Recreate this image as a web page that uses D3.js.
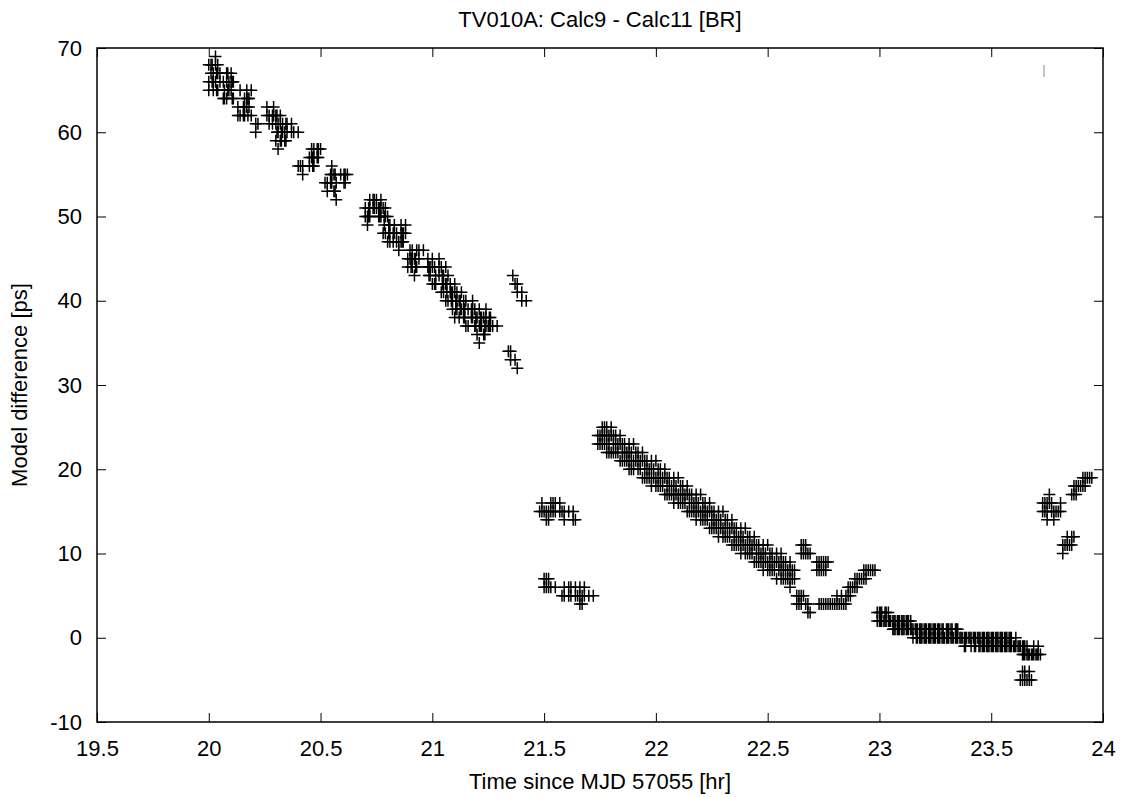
<!DOCTYPE html>
<html>
<head>
<meta charset="utf-8">
<script src="https://cdn.jsdelivr.net/npm/d3@7"></script>
<style>
  body { margin: 0; background: #fff; }
  svg { display: block; font-family: "Liberation Sans", Arial, sans-serif; }
</style>
</head>
<body>
<svg id="chart" width="1125" height="797"></svg>
<script>
// axis ticks
const xTicks = [19.5, 20, 20.5, 21, 21.5, 22, 22.5, 23, 23.5, 24];
const yTicks = [-10, 0, 10, 20, 30, 40, 50, 60, 70];

// each row: [hour, [model differences in ps]]
const earlyTrack = [
  [20.00, [68, 66, 65]], [20.01, [68, 67]], [20.015, [68, 66]], [20.02, [67, 66, 65]],
  [20.03, [69, 68, 66]], [20.035, [67, 65]], [20.04, [68, 67, 65]], [20.05, [67, 66]],
  [20.065, [66, 64]], [20.07, [65, 64]], [20.08, [67, 66, 64]], [20.085, [67, 65]],
  [20.09, [66, 65]], [20.10, [67, 66, 65]], [20.105, [66, 64]], [20.11, [66, 64]],
  [20.13, [63, 62]], [20.14, [65, 62]], [20.155, [63, 62]], [20.16, [64, 63, 62]],
  [20.17, [65, 64, 63]], [20.175, [64, 62]], [20.18, [64, 63]], [20.19, [65, 62]],
  [20.21, [61, 60]], [20.22, [61]], [20.26, [63, 62]], [20.27, [62, 61]],
  [20.285, [62, 61]], [20.29, [63, 62]], [20.30, [62, 61, 59]], [20.305, [62, 60]],
  [20.31, [61, 60, 58]], [20.32, [62, 61, 59]], [20.325, [60, 59]], [20.33, [61, 60]],
  [20.34, [60, 59]], [20.345, [61, 59]], [20.35, [61, 60]], [20.37, [61, 60]],
  [20.38, [60]], [20.40, [60, 56]], [20.41, [56]], [20.42, [56, 55]],
  [20.45, [57, 56]], [20.46, [58, 57]], [20.465, [57, 56]], [20.47, [58, 57, 56]],
  [20.485, [58, 57]], [20.49, [58, 57]], [20.50, [58]], [20.52, [54]],
  [20.53, [54, 53]], [20.545, [55, 54]], [20.55, [56, 55, 54]], [20.56, [55, 53]],
  [20.565, [55, 53]], [20.57, [54, 52]], [20.59, [55]], [20.605, [55, 54]],
  [20.61, [55, 54]], [20.62, [55]]
];

const midTrack = [
  [20.70, [51, 50]], [20.71, [50, 49]], [20.715, [51, 50]], [20.72, [52, 51, 50]],
  [20.735, [52, 51]], [20.74, [52, 51]], [20.75, [52, 51]], [20.76, [51, 50]],
  [20.765, [51, 50]], [20.77, [52, 51, 50]], [20.78, [51, 48]], [20.785, [50, 49]],
  [20.79, [51, 50, 48]], [20.80, [50, 47]], [20.805, [49, 48]], [20.81, [49, 48, 47]],
  [20.825, [48, 47]], [20.83, [49, 48]], [20.84, [48, 47]], [20.85, [47, 46]],
  [20.86, [49, 48, 47]], [20.865, [48, 47]], [20.87, [48, 47]], [20.88, [49, 48]],
  [20.89, [45, 44]], [20.90, [46, 45]], [20.905, [45, 44]], [20.91, [46, 45, 44]],
  [20.92, [45, 43]], [20.925, [45, 44]], [20.93, [46, 44]], [20.94, [46, 45]],
  [20.96, [46]], [20.98, [45, 44]], [20.985, [44, 43]], [20.99, [44, 43]],
  [21.00, [45, 44, 42]], [21.01, [44, 42]], [21.015, [43, 42]], [21.03, [45, 44, 43]],
  [21.04, [44, 41]], [21.045, [43, 42]], [21.05, [43, 42, 41]], [21.06, [44, 42, 40]],
  [21.065, [42, 41]], [21.07, [43, 40]], [21.08, [42, 41]], [21.085, [41, 40]],
  [21.09, [41, 40, 39]], [21.10, [42, 41, 38]], [21.105, [40, 39]], [21.11, [41, 40, 39]],
  [21.12, [40, 38]], [21.125, [40, 39]], [21.13, [41, 39]], [21.14, [40, 39, 38]],
  [21.145, [39, 38]], [21.15, [40, 37]], [21.16, [39, 37]], [21.175, [39, 38]],
  [21.18, [40, 39, 38]], [21.19, [39, 37]], [21.195, [38, 37]], [21.20, [38, 36]],
  [21.21, [39, 37, 35]], [21.215, [38, 37]], [21.22, [38, 37]], [21.23, [38, 36]],
  [21.235, [37, 36]], [21.24, [39, 38, 37]], [21.25, [37]], [21.255, [38, 37]],
  [21.26, [38, 37]], [21.27, [37]], [21.29, [37]],
  [21.34, [34]], [21.35, [34, 33]], [21.37, [33]], [21.38, [32]],
  [21.36, [43]], [21.37, [42]], [21.38, [42, 41]], [21.40, [41, 40]], [21.42, [40]]
];

const gapClusters = [
  [21.48, [15]], [21.49, [16, 15]], [21.50, [15, 7, 6]], [21.51, [15, 14, 7, 6]],
  [21.52, [15, 14, 7, 6]], [21.53, [16, 15, 6]], [21.54, [16, 15]], [21.55, [16, 15, 6]],
  [21.57, [16, 15]], [21.58, [15, 5]], [21.59, [15, 14, 6, 5]], [21.61, [15, 6, 5]],
  [21.62, [6, 5]], [21.63, [15, 14]], [21.64, [14, 6, 5]], [21.65, [5]],
  [21.66, [6, 5, 4]], [21.67, [5, 4]], [21.68, [6, 5]], [21.70, [5]], [21.72, [5]]
];

const lateTrack = [
  [21.74, [24, 23]], [21.75, [24, 23]], [21.76, [25, 24, 23]], [21.77, [25, 24, 23]],
  [21.78, [25, 24, 23, 22]], [21.79, [24, 23, 22]], [21.80, [25, 24, 22]], [21.81, [24, 23, 22]],
  [21.82, [24, 23, 22]], [21.83, [23, 22]], [21.84, [24, 23, 21]], [21.85, [23, 22, 21]],
  [21.86, [23, 22, 21]], [21.87, [22, 21]], [21.88, [23, 22, 21, 20]], [21.89, [22, 21, 20]],
  [21.90, [23, 21, 20]], [21.91, [22, 21]], [21.92, [22, 21, 20]], [21.93, [21, 20]],
  [21.94, [22, 21, 19]], [21.95, [21, 20, 19]], [21.96, [21, 20, 19]], [21.97, [20, 19]],
  [21.98, [21, 20, 19, 18]], [21.99, [20, 19]], [22.00, [21, 19, 18]], [22.01, [20, 19, 18]],
  [22.02, [20, 19, 18]], [22.03, [19, 18]], [22.04, [20, 19, 17]], [22.05, [19, 18, 17]],
  [22.06, [19, 18, 17]], [22.07, [18, 17]], [22.08, [19, 18, 17, 16]], [22.09, [18, 17]],
  [22.10, [19, 17, 16]], [22.11, [18, 17, 16]], [22.12, [18, 17, 16]], [22.13, [17, 16]],
  [22.14, [18, 17, 15]], [22.15, [17, 16, 15]], [22.16, [17, 16, 15]], [22.17, [16, 15]],
  [22.18, [17, 16, 15, 14]], [22.19, [16, 15]], [22.20, [17, 15, 14]], [22.21, [16, 15, 14]],
  [22.22, [16, 15, 14]], [22.23, [15, 14]], [22.24, [16, 15, 13]], [22.25, [15, 14, 13]],
  [22.26, [15, 14, 13]], [22.27, [14, 13]], [22.28, [15, 14, 13, 12]], [22.29, [14, 13]],
  [22.30, [15, 13, 12]], [22.31, [14, 13, 12]], [22.32, [14, 13, 12]], [22.33, [13, 12]],
  [22.34, [14, 13, 11]], [22.35, [13, 12, 11]], [22.36, [13, 12, 11]], [22.37, [12, 11]],
  [22.38, [13, 12, 11, 10]], [22.39, [12, 11]], [22.40, [13, 11, 10]], [22.41, [12, 11, 10]],
  [22.42, [12, 11, 10]], [22.43, [11, 10]], [22.44, [12, 11, 9]], [22.45, [11, 10, 9]],
  [22.46, [11, 10, 9]], [22.47, [10, 9]], [22.48, [11, 10, 9, 8]], [22.49, [10, 9]],
  [22.50, [11, 9, 8]], [22.51, [10, 9, 8]], [22.52, [10, 9, 8]], [22.53, [9, 8]],
  [22.54, [10, 9, 7]], [22.55, [9, 8]], [22.56, [10, 9, 8, 7]], [22.57, [9, 8, 7]],
  [22.58, [9, 8, 7]], [22.59, [8, 7]], [22.60, [9, 8, 7, 6]], [22.61, [8, 7]],
  [22.62, [8, 7]]
];

const dipClusters = [
  [22.63, [5, 4]], [22.64, [5, 4]], [22.65, [11, 10, 5, 4]], [22.66, [11, 10, 5]],
  [22.67, [11, 10, 4]], [22.68, [10, 4, 3]], [22.69, [10, 3]], [22.72, [9, 8]],
  [22.73, [9, 8, 4]], [22.74, [9, 8, 4]], [22.75, [9, 8, 4]], [22.76, [9, 8, 4]],
  [22.77, [9, 4]], [22.78, [4]], [22.79, [4]], [22.80, [4]], [22.81, [5, 4]],
  [22.82, [4]], [22.83, [5, 4]], [22.84, [4]], [22.85, [5, 4]], [22.86, [6, 5]],
  [22.87, [6, 5]], [22.88, [6]], [22.89, [7, 6]], [22.90, [7, 6]], [22.91, [7]],
  [22.92, [7]], [22.93, [8, 7]], [22.94, [8, 7]], [22.95, [8]], [22.96, [8]],
  [22.97, [8]], [22.98, [8]]
];

const flatTrack = [
  [22.99, [3, 2]], [23.00, [3, 2]], [23.005, [3, 2]], [23.01, [3, 2]], [23.02, [2]],
  [23.025, [3, 2]], [23.03, [3, 2]], [23.04, [3, 2]], [23.045, [2]], [23.05, [2]],
  [23.06, [2, 1]], [23.065, [2, 1]], [23.07, [2, 1]], [23.08, [2, 1]], [23.085, [2, 1]],
  [23.09, [2, 1]], [23.10, [2, 1]], [23.105, [2, 1]], [23.11, [2, 1]], [23.12, [2, 1]],
  [23.125, [2, 1]], [23.13, [2, 1]], [23.14, [2, 1]], [23.145, [1]], [23.15, [1, 0]],
  [23.16, [1]], [23.165, [1, 0]], [23.17, [1, 0]], [23.18, [1, 0]], [23.185, [1, 0]],
  [23.19, [1, 0]], [23.20, [1, 0]], [23.205, [1, 0]], [23.21, [1, 0]], [23.22, [1, 0]],
  [23.225, [1, 0]], [23.23, [1, 0]], [23.24, [1, 0]], [23.245, [1, 0]], [23.25, [1, 0]],
  [23.26, [1, 0]], [23.265, [1, 0]], [23.27, [1, 0]], [23.28, [1, 0]], [23.285, [1, 0]],
  [23.29, [0]], [23.30, [1, 0]], [23.305, [1, 0]], [23.31, [1, 0]], [23.32, [1, 0]],
  [23.325, [1, 0]], [23.33, [0]], [23.34, [1, 0]], [23.345, [1, 0]], [23.35, [1, 0]],
  [23.36, [0]], [23.365, [0]], [23.37, [0]], [23.38, [0, -1]], [23.385, [0, -1]],
  [23.39, [0]], [23.40, [0]], [23.405, [0]], [23.41, [0, -1]], [23.42, [0]],
  [23.425, [0, -1]], [23.43, [0, -1]], [23.44, [0]], [23.445, [0, -1]], [23.45, [0, -1]],
  [23.46, [0, -1]], [23.465, [0, -1]], [23.47, [0, -1]], [23.48, [0, -1]], [23.485, [0, -1]],
  [23.49, [0, -1]], [23.50, [0, -1]], [23.505, [0, -1]], [23.51, [0, -1]], [23.52, [0, -1]],
  [23.525, [0, -1]], [23.53, [0, -1]], [23.54, [0, -1]], [23.545, [0, -1]], [23.55, [0, -1]],
  [23.56, [0, -1]], [23.565, [0, -1]], [23.57, [0, -1]], [23.58, [0, -1]], [23.585, [0, -1]],
  [23.59, [0, -1]], [23.60, [-1]], [23.605, [-1]], [23.61, [0, -1]], [23.62, [-1]],
  [23.625, [-1]], [23.63, [-1, -5]], [23.64, [-1, -2, -4, -5]], [23.645, [-1, -2]],
  [23.65, [-1, -2, -4, -5]], [23.66, [-1, -2, -5]], [23.665, [-2]], [23.67, [-2, -4, -5]],
  [23.68, [-2, -5]], [23.685, [-2]], [23.69, [-1, -2]], [23.70, [-2]], [23.705, [-2]],
  [23.71, [-1, -2]], [23.72, [-2]]
];

const endClusters = [
  [23.73, [16, 15]], [23.74, [16, 15]], [23.75, [16, 15, 14]], [23.76, [17, 16]],
  [23.77, [16, 15]], [23.78, [15, 14]], [23.79, [15]], [23.80, [15]], [23.81, [16, 15]],
  [23.82, [11, 10]], [23.83, [11]], [23.84, [12, 11]], [23.85, [11]], [23.86, [17, 12, 11]],
  [23.87, [18, 17, 12]], [23.88, [18, 17]], [23.89, [18]], [23.90, [18]], [23.91, [19, 18]],
  [23.92, [19, 18]], [23.93, [19]], [23.94, [19]], [23.95, [19]]
];

const svg = d3.select('#chart');
const margin = { top: 48, right: 22, bottom: 75, left: 97 };
const width = 1125 - margin.left - margin.right;
const height = 797 - margin.top - margin.bottom;
const fontSize = '22px';

const x = d3.scaleLinear().domain([19.5, 24]).range([0, width]);
const y = d3.scaleLinear().domain([-10, 70]).range([height, 0]);

const g = svg.append('g').attr('transform', `translate(${margin.left},${margin.top})`);

// flatten rows into points
const points = [];
[earlyTrack, midTrack, gapClusters, lateTrack, dipClusters, flatTrack, endClusters].forEach(rows => {
  rows.forEach(([t, vals]) => vals.forEach(v => points.push([t, v])));
});

// markers
const s = 6;
g.append('g')
  .selectAll('path')
  .data(points)
  .join('path')
  .attr('d', d => {
    const px = x(d[0]), py = y(d[1]);
    return `M${px - s},${py}H${px + s}M${px},${py - s}V${py + s}`;
  })
  .attr('stroke', '#000')
  .attr('stroke-width', 1.5)
  .attr('fill', 'none');

// axes with inward ticks on all sides
const tickLen = 9;
const plain = d => String(d);
const axisStyle = sel => {
  sel.select('.domain').remove();
  sel.selectAll('.tick line').attr('stroke', '#000').attr('stroke-width', 1);
  sel.selectAll('.tick text').attr('fill', '#000').style('font-size', fontSize)
    .style('font-family', '"Liberation Sans", Arial, sans-serif');
};

g.append('g')
  .attr('transform', `translate(0,${height})`)
  .call(d3.axisBottom(x).tickValues(xTicks).tickSize(-tickLen).tickPadding(18).tickFormat(plain))
  .call(axisStyle);
g.append('g')
  .call(d3.axisTop(x).tickValues(xTicks).tickSize(-tickLen).tickFormat(''))
  .call(axisStyle);
g.append('g')
  .call(d3.axisLeft(y).tickValues(yTicks).tickSize(-tickLen).tickPadding(15).tickFormat(plain))
  .call(axisStyle);
g.append('g')
  .attr('transform', `translate(${width},0)`)
  .call(d3.axisRight(y).tickValues(yTicks).tickSize(-tickLen).tickFormat(''))
  .call(axisStyle);

// frame
g.append('rect')
  .attr('width', width)
  .attr('height', height)
  .attr('fill', 'none')
  .attr('stroke', '#000')
  .attr('stroke-width', 1.5);

// key sample (empty title)
g.append('line')
  .attr('x1', width - 59).attr('x2', width - 59)
  .attr('y1', 17).attr('y2', 29)
  .attr('stroke', '#888')
  .attr('stroke-width', 1);

// title and labels
svg.append('text')
  .attr('x', margin.left + width / 2)
  .attr('y', 27)
  .attr('text-anchor', 'middle')
  .style('font-size', fontSize)
  .text('TV010A: Calc9 - Calc11 [BR]');

svg.append('text')
  .attr('x', margin.left + width / 2)
  .attr('y', 789)
  .attr('text-anchor', 'middle')
  .style('font-size', fontSize)
  .text('Time since MJD 57055 [hr]');

svg.append('text')
  .attr('transform', `translate(27,${margin.top + height / 2}) rotate(-90)`)
  .attr('text-anchor', 'middle')
  .style('font-size', fontSize)
  .text('Model difference [ps]');
</script>
</body>
</html>
